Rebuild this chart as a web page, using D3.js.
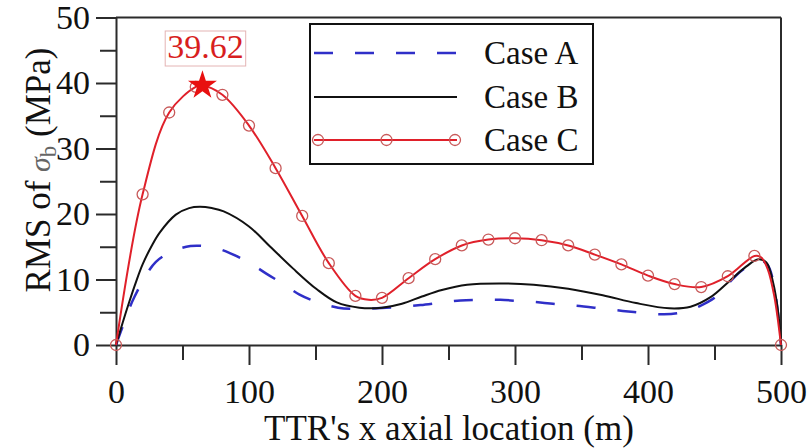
<!DOCTYPE html>
<html><head><meta charset="utf-8">
<script src="https://cdn.jsdelivr.net/npm/d3@7"></script>
<style>html,body{margin:0;padding:0;background:#fff;}svg{display:block;}
svg text{font-family:"Times New Roman",Times,Tinos,"Liberation Serif","Noto Serif","DejaVu Serif",FreeSerif,serif;}</style>
</head><body>
<svg id="c" width="808" height="448"></svg>
<script>
// ---- data ----
const caseA_x = [0,5,14,30,45,56,63,75,86,100,113,125,138,152,167,182,196,212,229,245,259,274,289,304,319,333,346,364,381,396,412,426,439,450,460,470,480,485,490,495,500];
const caseA_y = [0,2.8,7.4,12.7,14.5,15.1,15.15,14.8,14.0,12.6,10.9,9.4,7.7,6.5,5.7,5.5,5.6,5.8,6.1,6.5,6.8,6.9,6.9,6.7,6.5,6.2,6.0,5.6,5.2,4.9,4.7,5.0,5.95,7.2,9.3,11.3,12.6,12.9,12.2,8.8,0];
const caseB_x = [0,5,10,15,20,27,33,45,55,63,72,81,100,116,133,151,166,183,200,215,230,245,264,288,314,340,366,391,416,432,447,462,474,483,489,494,498,500];
const caseB_y = [0,3.4,6.6,9.6,12.3,15.2,17.2,19.9,20.9,21.1,20.9,20.4,18.1,15.0,11.7,8.5,6.5,5.7,5.7,6.3,7.4,8.4,9.2,9.4,9.2,8.6,7.6,6.4,5.6,5.85,7.3,9.9,12.0,13.1,12.6,9.6,4.8,0];
const caseC_x = [0,20,40,60,65,80,100,120,140,160,180,190,200,220,240,260,280,300,320,340,360,380,400,420,440,460,480,485,490,495,500];
const caseC_y = [0,23.0,35.5,39.4,39.62,38.2,33.5,27.0,19.7,12.5,7.5,6.9,7.2,10.2,13.1,15.2,16.1,16.3,16.0,15.2,13.8,12.3,10.6,9.3,8.85,10.5,13.6,13.4,11.6,7.4,0];
const markerStep = 20;
const seriesNames = ["Case A","Case B","Case C"];
const peakX = 65, peakY = 39.62, peakLabel = "39.62";
const xTicks = [0,100,200,300,400,500];
const xMinor = [50,150,250,350,450];
const yTicks = [0,10,20,30,40,50];
const yMinor = [5,15,25,35,45];
const xTitle = "TTR's x axial location (m)";

// ---- drawing ----
const svg = d3.select("#c");
const x = d3.scaleLinear().domain([0,500]).range([116,781]);
const y = d3.scaleLinear().domain([0,50]).range([345,17.5]);
const AX = "#2b2b2b";

const line = d3.line().x(d=>x(d[0])).y(d=>y(d[1])).curve(d3.curveCatmullRom.alpha(0.5));
const zip = (a,b)=>a.map((v,i)=>[v,b[i]]);
const A = zip(caseA_x,caseA_y), B = zip(caseB_x,caseB_y), C = zip(caseC_x,caseC_y);

// frame top/right
svg.append("line").attr("x1",x(0)).attr("x2",x(500)).attr("y1",y(50)).attr("y2",y(50)).attr("stroke",AX).attr("stroke-width",2);
svg.append("line").attr("x1",x(500)).attr("x2",x(500)).attr("y1",y(50)).attr("y2",y(0)).attr("stroke",AX).attr("stroke-width",2);

// axes
const xAxis = d3.axisBottom(x).tickValues(xTicks).tickSize(20).tickPadding(14).tickSizeOuter(0);
const gx = svg.append("g").attr("transform",`translate(0,${y(0)})`).call(xAxis);
const xAxisMinor = d3.axisBottom(x).tickValues(xMinor).tickSize(15).tickFormat("").tickSizeOuter(0);
const gxm = svg.append("g").attr("transform",`translate(0,${y(0)})`).call(xAxisMinor);
const yAxis = d3.axisLeft(y).tickValues(yTicks).tickSize(20).tickPadding(6).tickSizeOuter(0);
const gy = svg.append("g").attr("transform",`translate(${x(0)},0)`).call(yAxis);
const yAxisMinor = d3.axisLeft(y).tickValues(yMinor).tickSize(16).tickFormat("").tickSizeOuter(0);
const gym = svg.append("g").attr("transform",`translate(${x(0)},0)`).call(yAxisMinor);
[gx,gxm,gy,gym].forEach(g=>{
  g.attr("font-family",null);
  g.selectAll("path").attr("stroke",AX).attr("stroke-width",2);
  g.selectAll("line").attr("stroke",AX).attr("stroke-width",2);
  g.selectAll("text").attr("font-size",34).attr("fill","#111");
});
gxm.select("path").remove(); gym.select("path").remove();

// series
svg.append("path").datum(A).attr("d",line).attr("fill","none").attr("stroke","#2f2fc8").attr("stroke-width",2.5).attr("stroke-dasharray","19,22");
svg.append("path").datum(B).attr("d",line).attr("fill","none").attr("stroke","#111").attr("stroke-width",2);
svg.append("path").datum(C).attr("d",line).attr("fill","none").attr("stroke","#e0202a").attr("stroke-width",2);
svg.append("g").selectAll("circle").data(C.filter(d=>d[0]%markerStep===0)).join("circle")
  .attr("cx",d=>x(d[0])).attr("cy",d=>y(d[1])).attr("r",5.5)
  .attr("fill","none").attr("stroke","#c85a5a").attr("stroke-width",1.3);

// star at peak
const star = d3.symbol().type(d3.symbolStar).size(260);
svg.append("path").attr("d",star()).attr("transform",`translate(${x(peakX)},${y(peakY)})`).attr("fill","#e81010");

// annotation
const lblX = x(peakX)+3, lblY = 58;
const ann = svg.append("g");
const annRect = ann.append("rect");
const lbl = ann.append("text").attr("x",lblX).attr("y",lblY).attr("text-anchor","middle")
  .attr("font-size",34).attr("fill","#d81e1e").text(peakLabel);
const bb = lbl.node().getBBox();
annRect.attr("x",bb.x-2).attr("y",bb.y+3).attr("width",bb.width+4).attr("height",bb.height-2)
  .attr("fill","none").attr("stroke","#e4b4b4").attr("stroke-width",1);

// legend
const lg = svg.append("g");
lg.append("rect").attr("x",310).attr("y",24).attr("width",283).attr("height",140).attr("fill","#fff").attr("stroke","#111").attr("stroke-width",2);
const rows = [53,97,140];
const lx1 = 314, lx2 = 457;
lg.append("line").attr("x1",lx1).attr("x2",lx2).attr("y1",rows[0]).attr("y2",rows[0]).attr("stroke","#2f2fc8").attr("stroke-width",2.5).attr("stroke-dasharray","19,22");
lg.append("line").attr("x1",lx1).attr("x2",lx2).attr("y1",rows[1]).attr("y2",rows[1]).attr("stroke","#111").attr("stroke-width",2);
lg.append("line").attr("x1",lx1).attr("x2",lx2).attr("y1",rows[2]).attr("y2",rows[2]).attr("stroke","#e0202a").attr("stroke-width",2);
[318,386.5,455].forEach(cx=>lg.append("circle").attr("cx",cx).attr("cy",rows[2]).attr("r",5.5).attr("fill","none").attr("stroke","#c85a5a").attr("stroke-width",1.3));
seriesNames.forEach((n,i)=>lg.append("text").attr("x",484).attr("y",rows[i]+11).attr("font-size",33).attr("fill","#111").text(n));

// axis titles
svg.append("text").attr("x",449).attr("y",440).attr("text-anchor","middle").attr("font-size",35).attr("fill","#111").text(xTitle);
const yt = svg.append("text").attr("transform","translate(50,170) rotate(-90)").attr("text-anchor","middle")
  .attr("font-size",35).attr("fill","#111");
yt.append("tspan").text("RMS of ");
yt.append("tspan").attr("font-style","italic").attr("fill","#666").attr("font-size",30).text("σ");
yt.append("tspan").attr("font-size",23).attr("fill","#666").attr("dy",6).text("b");
yt.append("tspan").attr("dy",-6).text(" (MPa)");
</script>
</body></html>
